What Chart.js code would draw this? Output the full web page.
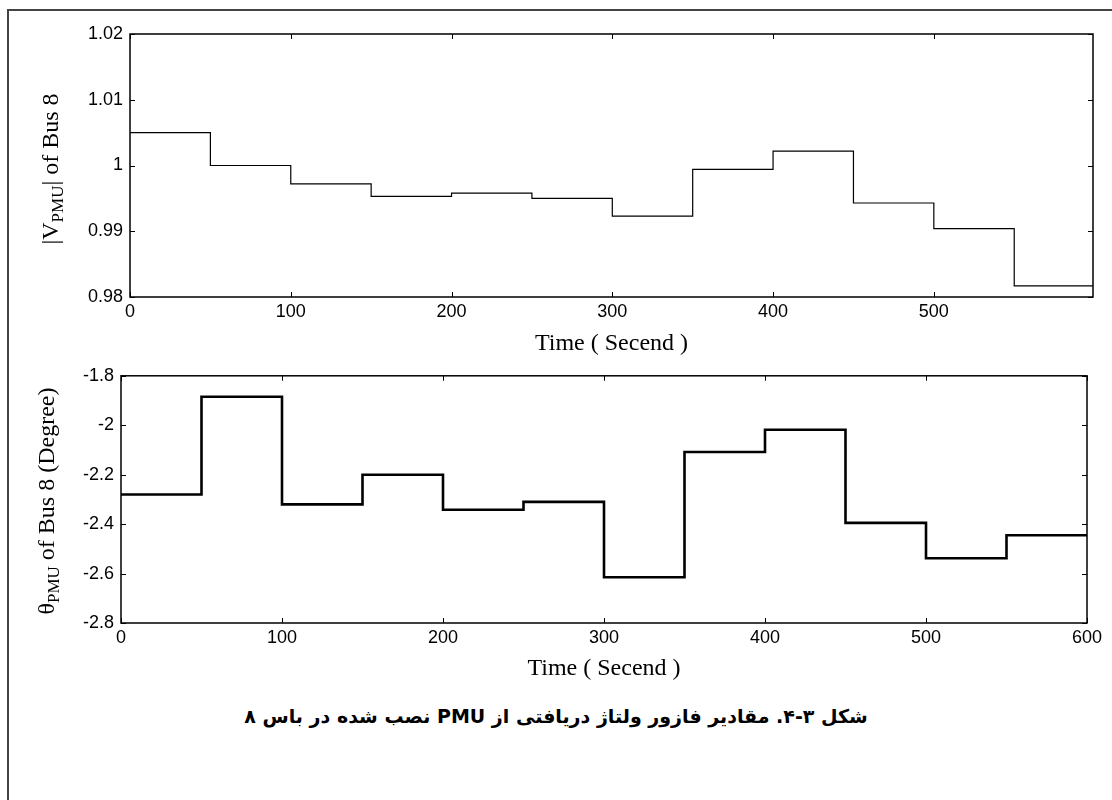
<!DOCTYPE html>
<html>
<head>
<meta charset="utf-8">
<script src="https://cdn.jsdelivr.net/npm/chart.js@4.4.1/dist/chart.umd.min.js"></script>
<style>
  body { margin: 0; background: #fff; width: 1112px; height: 800px; overflow: hidden; position: relative; }
  #frame { position: absolute; left: 7px; top: 9px; width: 1200px; height: 900px; border-left: 2px solid #444; border-top: 2px solid #444; }
  canvas { position: absolute; left: 0; }
  .ylab { position: absolute; font-family: "Liberation Serif", serif; font-size: 24px; white-space: nowrap; color: #000;
          transform: translate(-50%, -50%) rotate(-90deg); }
  .ylab sub { font-size: 17px; vertical-align: -5px; }
  #caption { position: absolute; left: 0; top: 705px; width: 1112px; text-align: center; direction: rtl;
             font-family: "DejaVu Sans", sans-serif; font-weight: bold; font-size: 19px; color: #000; }
</style>
</head>
<body>
<div id="frame"></div>
<canvas id="magChart" width="1112" height="358" style="top:0"></canvas>
<canvas id="angChart" width="1112" height="332" style="top:358px"></canvas>
<div class="ylab" style="left:52px; top:169px">|V<sub>PMU</sub>| of Bus 8</div>
<div class="ylab" style="left:48px; top:501px">θ<sub>PMU</sub> of Bus 8 (Degree)</div>
<div id="caption">شکل ۳-۴. مقادیر فازور ولتاژ دریافتی از PMU نصب شده در باس ۸</div>
<script>
// start of every 50 s step (seconds)
const stepStarts = [0, 50, 100, 150, 200, 250, 300, 350, 400, 450, 500, 550];
const magEnd = 599;
const angEnd = 600;
const magXTicks = [0, 100, 200, 300, 400, 500];
const angXTicks = [0, 100, 200, 300, 400, 500, 600];
// |V| of bus 8 (pu) during each step
const voltageMag = [1.005, 1.000, 0.9972, 0.9953, 0.9958, 0.9950, 0.9923, 0.9994, 1.0022, 0.9943, 0.9904, 0.9817];
// phase angle of bus 8 (degree) during each step
const phaseAngle = [-2.28, -1.885, -2.32, -2.20, -2.342, -2.31, -2.615, -2.108, -2.018, -2.395, -2.538, -2.445];
const xTitle = 'Time ( Secend )';

function stepData(values, end) {
    var pts = stepStarts.map((t, i) => ({x: t, y: values[i]}));
    pts.push({x: end, y: values[values.length - 1]});
    return pts;
}

// matlab style box with inward ticks on all four sides
const matlabAxes = {
    id: 'matlabAxes',
    afterDatasetsDraw(chart) {
        const {ctx, chartArea: a, scales} = chart;
        const x = scales.x, y = scales.y;
        const len = 5;
        ctx.save();
        ctx.strokeStyle = '#000';
        ctx.lineWidth = 1;
        ctx.beginPath();
        x.ticks.forEach(t => {
            var px = Math.round(x.getPixelForValue(t.value)) + 0.5;
            ctx.moveTo(px, a.bottom); ctx.lineTo(px, a.bottom - len);
            ctx.moveTo(px, a.top); ctx.lineTo(px, a.top + len);
        });
        y.ticks.forEach(t => {
            var py = Math.round(y.getPixelForValue(t.value)) + 0.5;
            ctx.moveTo(a.left, py); ctx.lineTo(a.left + len, py);
            ctx.moveTo(a.right, py); ctx.lineTo(a.right - len, py);
        });
        ctx.stroke();
        ctx.lineWidth = 1.5;
        ctx.strokeRect(a.left, a.top, a.right - a.left, a.bottom - a.top);
        ctx.restore();
    }
};

function makeChart(id, values, end, xTicks, o) {
    return new Chart(document.getElementById(id), {
        type: 'line',
        data: {
            datasets: [{
                data: stepData(values, end),
                stepped: 'before',
                borderColor: '#000',
                borderWidth: o.lineWidth,
                pointRadius: 0,
                fill: false
            }]
        },
        options: {
            responsive: false,
            animation: false,
            events: [],
            layout: {padding: {top: o.padTop, right: o.padRight, left: 0, bottom: 0}},
            plugins: {legend: {display: false}, tooltip: {enabled: false}},
            scales: {
                x: {
                    type: 'linear', min: 0, max: end,
                    grid: {display: false, drawTicks: false},
                    border: {display: false},
                    ticks: {padding: 4, maxRotation: 0, autoSkip: false, color: '#000',
                            font: {family: 'Liberation Sans', size: 18}},
                    afterBuildTicks: s => { s.ticks = xTicks.map(v => ({value: v})); },
                    title: {display: true, text: xTitle, color: '#000', padding: {top: 0, bottom: o.titlePad},
                            font: {family: 'Liberation Serif', size: 24}},
                    afterFit: s => { s.height = o.xHeight; }
                },
                y: {
                    min: o.yMin, max: o.yMax,
                    grid: {display: false, drawTicks: false},
                    border: {display: false},
                    ticks: {stepSize: o.yStep, padding: 7, color: '#000',
                            font: {family: 'Liberation Sans', size: 18},
                            callback: v => String(+v.toFixed(2))},
                    afterFit: s => { s.width = o.yWidth; }
                }
            }
        },
        plugins: [matlabAxes]
    });
}

makeChart('magChart', voltageMag, magEnd, magXTicks, {
    lineWidth: 1.2, padTop: 34, padRight: 19, xHeight: 61, yWidth: 130, titlePad: 0,
    yMin: 0.98, yMax: 1.02, yStep: 0.01
});
makeChart('angChart', phaseAngle, angEnd, angXTicks, {
    lineWidth: 2.6, padTop: 17, padRight: 25, xHeight: 67, yWidth: 121, titlePad: 7,
    yMin: -2.8, yMax: -1.8, yStep: 0.2
});
</script>
</body>
</html>
